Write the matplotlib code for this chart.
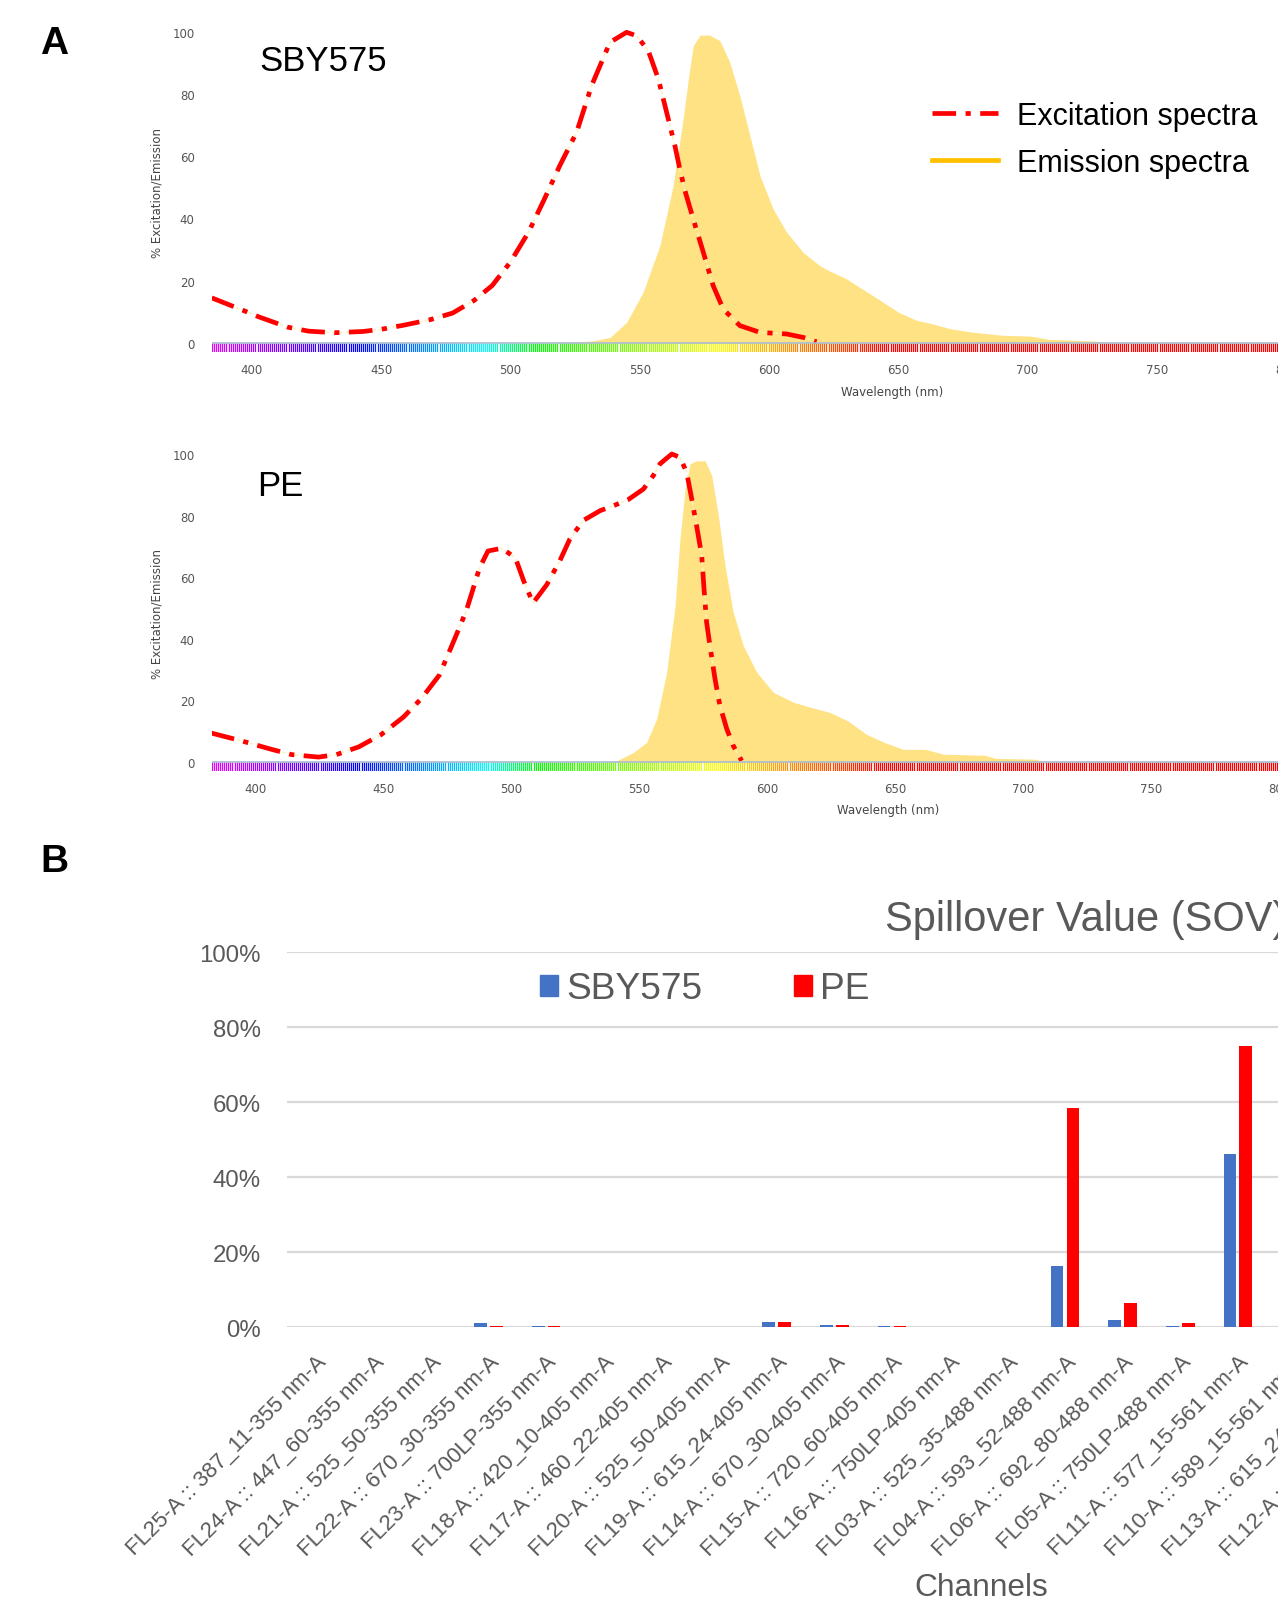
import numpy as np
import matplotlib.pyplot as plt
from matplotlib.lines import Line2D
from matplotlib.patches import Patch

# ---- spectra data ----
sby_ex_nm = [384.5, 396.6, 403, 413.8, 422, 432, 443, 450, 458.6, 469, 477.6, 486, 493, 500, 507, 513,
             519.1, 525.6, 531.4, 538.5, 544.9, 548.8, 553.3, 557.2, 560.4, 563.6, 565.5, 567.5, 570.7,
             574.6, 578.4, 582.3, 588.7, 596.5, 606.8, 613.2, 618.4]
sby_ex_val = [14.5, 10.5, 8.3, 5.1, 3.8, 3.3, 3.7, 4.4, 5.7, 7.5, 9.6, 13.7, 18.5, 26, 35.6, 46,
              57, 67.7, 82.7, 96.6, 99.8, 98.7, 93.9, 84.8, 74.1, 63.4, 55.9, 48.9, 39.8,
              29.1, 18.4, 10.9, 5.6, 3.4, 2.9, 1.8, 0.4]

sby_em_nm = [520, 532, 538.5, 544.9, 551.3, 557.8, 562.9, 566.8, 568.8, 570.7, 573.3, 577.1, 581, 584.8,
             588.7, 592.6, 596.5, 601.6, 606.8, 613.2, 619.7, 623, 630, 636, 643, 650, 657, 663, 670,
             678.5, 690, 701, 708, 726.6, 729]
sby_em_val = [0, 0.7, 1.8, 6.6, 16.3, 31.3, 50.5, 72, 84.8, 95.5, 98.9, 98.9, 97.1, 90.2,
              79.4, 66.6, 53.7, 43, 35.6, 29.1, 24.8, 23.3, 20.6, 17.4, 13.7, 9.9, 7.3, 6.2, 4.6,
              3.5, 2.5, 2.2, 1.2, 0.6, 0]

pe_ex_nm = [382.9, 395, 405.6, 414.3, 424.8, 431.8, 440.5, 449.3, 458, 465, 472, 477, 482.5, 487.7,
            491, 496.4, 501.7, 505, 508.6, 514, 519.1, 523, 528.2, 534.8, 540, 545.8, 551.7, 555.6,
            558.2, 562.8, 566, 568.6, 570.6, 572.5, 574.5, 575.4, 576.4, 577.7, 579.7, 581.6, 584.3,
            586.8, 590.1]
pe_ex_val = [9.4, 6.8, 4.3, 2.4, 1.6, 2.4, 4.9, 8.9, 14.6, 20.6, 28.2, 38, 49, 63,
             68.5, 69.4, 66.3, 58.7, 51.6, 57.6, 65.4, 72.4, 78.4, 81.6, 83.2, 85.2, 88.6, 93,
             96.8, 100, 98.9, 94.1, 85.4, 76.7, 67, 56.2, 45.4, 37.8, 26.9, 18.3, 10.7,
             5.3, 0.4]

pe_em_nm = [536, 541.3, 547.8, 553, 556.9, 560.8, 564.1, 566, 568, 569.9, 572.5, 575.8, 578.4, 581,
            583.6, 586.8, 590.7, 596, 602.5, 610.3, 617.3, 624.5, 631.7, 638.8, 646, 653.2, 661.9,
            669, 684.9, 689.2, 705, 708]
pe_em_val = [0, 0.4, 3.1, 6.4, 14, 29.1, 50.7, 72.4, 88.6, 96.8, 97.8, 97.8, 93, 80,
             63.7, 48.6, 37.8, 29.1, 22.6, 19.4, 17.7, 16.1, 13.3, 9, 6.3, 4.1, 4.1,
             2.5, 2.2, 1.2, 0.9, 0]

# ---- spillover data (SOV, %) ----
channels = ['FL25-A :: 387_11-355 nm-A', 'FL24-A :: 447_60-355 nm-A', 'FL21-A :: 525_50-355 nm-A',
            'FL22-A :: 670_30-355 nm-A', 'FL23-A :: 700LP-355 nm-A', 'FL18-A :: 420_10-405 nm-A',
            'FL17-A :: 460_22-405 nm-A', 'FL20-A :: 525_50-405 nm-A', 'FL19-A :: 615_24-405 nm-A',
            'FL14-A :: 670_30-405 nm-A', 'FL15-A :: 720_60-405 nm-A', 'FL16-A :: 750LP-405 nm-A',
            'FL03-A :: 525_35-488 nm-A', 'FL04-A :: 593_52-488 nm-A', 'FL06-A :: 692_80-488 nm-A',
            'FL05-A :: 750LP-488 nm-A', 'FL11-A :: 577_15-561 nm-A', 'FL10-A :: 589_15-561 nm-A',
            'FL13-A :: 615_24-561 nm-A', 'FL12-A :: 670_30-561 nm-A']
sov_sby575 = [0, 0, 0, 1.0, 0.4, 0, 0, 0, 1.3, 0.5, 0.2, 0, 0, 16.4, 1.8, 0.2, 46.2,
              np.nan, np.nan, np.nan]
sov_pe = [0, 0, 0, 0.3, 0.2, 0, 0, 0, 1.3, 0.5, 0.2, 0, 0, 58.5, 6.3, 1.0, 74.9,
          np.nan, np.nan, np.nan]

W, H = 1278, 1606
fig = plt.figure(figsize=(W / 100, H / 100), dpi=100)


def box(left, top, right, bottom):
    return [left / W, 1 - bottom / H, (right - left) / W, (bottom - top) / H]


def wl_color(w):
    if w < 440:
        r, g, b = (440 - w) / 60, 0, 1
    elif w < 490:
        r, g, b = 0, (w - 440) / 50, 1
    elif w < 510:
        r, g, b = 0, 1, (510 - w) / 20
    elif w < 580:
        r, g, b = (w - 510) / 70, 1, 0
    elif w < 645:
        r, g, b = 1, (645 - w) / 65, 0
    else:
        r, g, b = 1, 0, 0
    return (min(r, 1), g, b)


def spectra_panel(x0, x_px0, nm_px, base_px, unit_px, ex_nm, ex_val, em_nm, em_val):
    x1 = 850
    ax = fig.add_axes(box(x_px0, base_px - 105 * unit_px,
                          x_px0 + (x1 - x0) * nm_px, base_px + 3 * unit_px))
    ax.set_xlim(x0, x1)
    ax.set_ylim(-3, 105)
    ax.fill_between(em_nm, 0, em_val, color='#FEE283', lw=0, zorder=1)
    ax.plot(ex_nm, ex_val, color='#FFF0B8', lw=1.2, ls=(0, (2, 2)), zorder=2)
    ax.plot(ex_nm, ex_val, color='#FF0000', lw=3.4, ls=(0, (5, 2, 1.1, 2)),
            dash_capstyle='butt', zorder=3)
    ws = np.arange(x0, x1, 0.8)
    ax.vlines(ws, -2.8, 0, colors=[wl_color(w) for w in ws], lw=0.9, zorder=2)
    ax.axhline(0, color='#A9BCD0', lw=1.2, zorder=4)
    for s in ax.spines.values():
        s.set_visible(False)
    ax.set_xticks(np.arange(400, 851, 50))
    ax.set_yticks(np.arange(0, 101, 20))
    ax.tick_params(length=0, labelsize=8.5, labelcolor='#555555')
    ax.tick_params(axis='x', pad=7.5)
    ax.tick_params(axis='y', pad=12.5)
    wpx = (x1 - x0) * nm_px
    ax.set_ylabel('% Excitation/Emission', fontsize=8.5, color='#444444')
    ax.yaxis.set_label_coords(-48 / wpx, 0.476)
    ax.set_xlabel('Wavelength (nm)', fontsize=8.5, color='#444444')
    return ax, wpx


ax1, w1 = spectra_panel(384.6, 212, 2.586, 344, 3.113, sby_ex_nm, sby_ex_val, sby_em_nm, sby_em_val)
ax1.xaxis.set_label_coords((892 - 212) / w1, -0.097)
ax2, w2 = spectra_panel(383.2, 212, 2.56, 763, 3.08, pe_ex_nm, pe_ex_val, pe_em_nm, pe_em_val)
ax2.xaxis.set_label_coords((888 - 212) / w2, -0.096)

fig.text(259 / W, 1 - 61.5 / H, 'SBY575', fontsize=25, family='Liberation Sans', va='center')
fig.text(257 / W, 1 - 486 / H, 'PE', fontsize=25, family='Liberation Sans', va='center')

handles = [Line2D([], [], color='#FF0000', lw=3.4, ls=(0, (5, 2, 1.1, 2))),
           Line2D([], [], color='#FFC000', lw=3.4)]
ax1.legend(handles, ['Excitation spectra', 'Emission spectra'], loc='upper left',
           bbox_to_anchor=(932 / W, 1 - 102 / H), bbox_transform=fig.transFigure,
           frameon=False, prop={'family': 'Liberation Sans', 'size': 22},
           handlelength=2.15, handletextpad=0.62, labelspacing=0.56, borderpad=0,
           borderaxespad=0)

# ---- bar chart ----
cat_px = 57.65
n = len(channels)
axb = fig.add_axes(box(286.7, 953.3, 286.7 + n * cat_px, 1328.1))
idx = np.arange(n)
axb.bar(idx - 0.138, sov_sby575, width=0.222, color='#4472C4', zorder=3)
axb.bar(idx + 0.138, sov_pe, width=0.222, color='#FF0000', zorder=3)
axb.set_xlim(-0.5, n - 0.5)
axb.set_ylim(0, 100)
axb.set_yticks(np.arange(0, 101, 20))
axb.set_yticklabels([f'{v}%' for v in range(0, 101, 20)], family='Liberation Sans')
axb.grid(axis='y', color='#D9D9D9', lw=1.6, zorder=0)
axb.set_axisbelow(True)
for s in axb.spines.values():
    s.set_visible(False)
axb.set_xticks(idx)
axb.set_xticklabels(channels, rotation=45, ha='right', rotation_mode='anchor',
                    family='Liberation Sans', fontsize=16, color='#595959')
axb.tick_params(length=0)
axb.tick_params(axis='x', pad=17)
axb.tick_params(axis='y', pad=18.5, labelsize=17.3, labelcolor='#595959')

axb.legend([Patch(color='#4472C4'), Patch(color='#FF0000')], ['SBY575', 'PE'],
           loc='center left', bbox_to_anchor=(539.6 / W, 1 - 990 / H),
           bbox_transform=fig.transFigure, ncol=2, frameon=False,
           prop={'family': 'Liberation Sans', 'size': 26.7}, labelcolor='#595959',
           handlelength=0.5, handleheight=0.5, handletextpad=0.22, columnspacing=2.46,
           borderpad=0, borderaxespad=0)

fig.text(884.7 / W, 1 - 920 / H, 'Spillover Value (SOV)', fontsize=30,
         family='Liberation Sans', color='#595959', va='center', ha='left')
fig.text(981.5 / W, 1 - 1588 / H, 'Channels', fontsize=22.8,
         family='Liberation Sans', color='#595959', va='center', ha='center')

fig.text(54.3 / W, 1 - 44 / H, 'A', fontsize=28, weight='bold', family='Liberation Sans',
         ha='center', va='center')
fig.text(54.3 / W, 1 - 862 / H, 'B', fontsize=28, weight='bold', family='Liberation Sans',
         ha='center', va='center')

fig.savefig('out.png', dpi=100)
